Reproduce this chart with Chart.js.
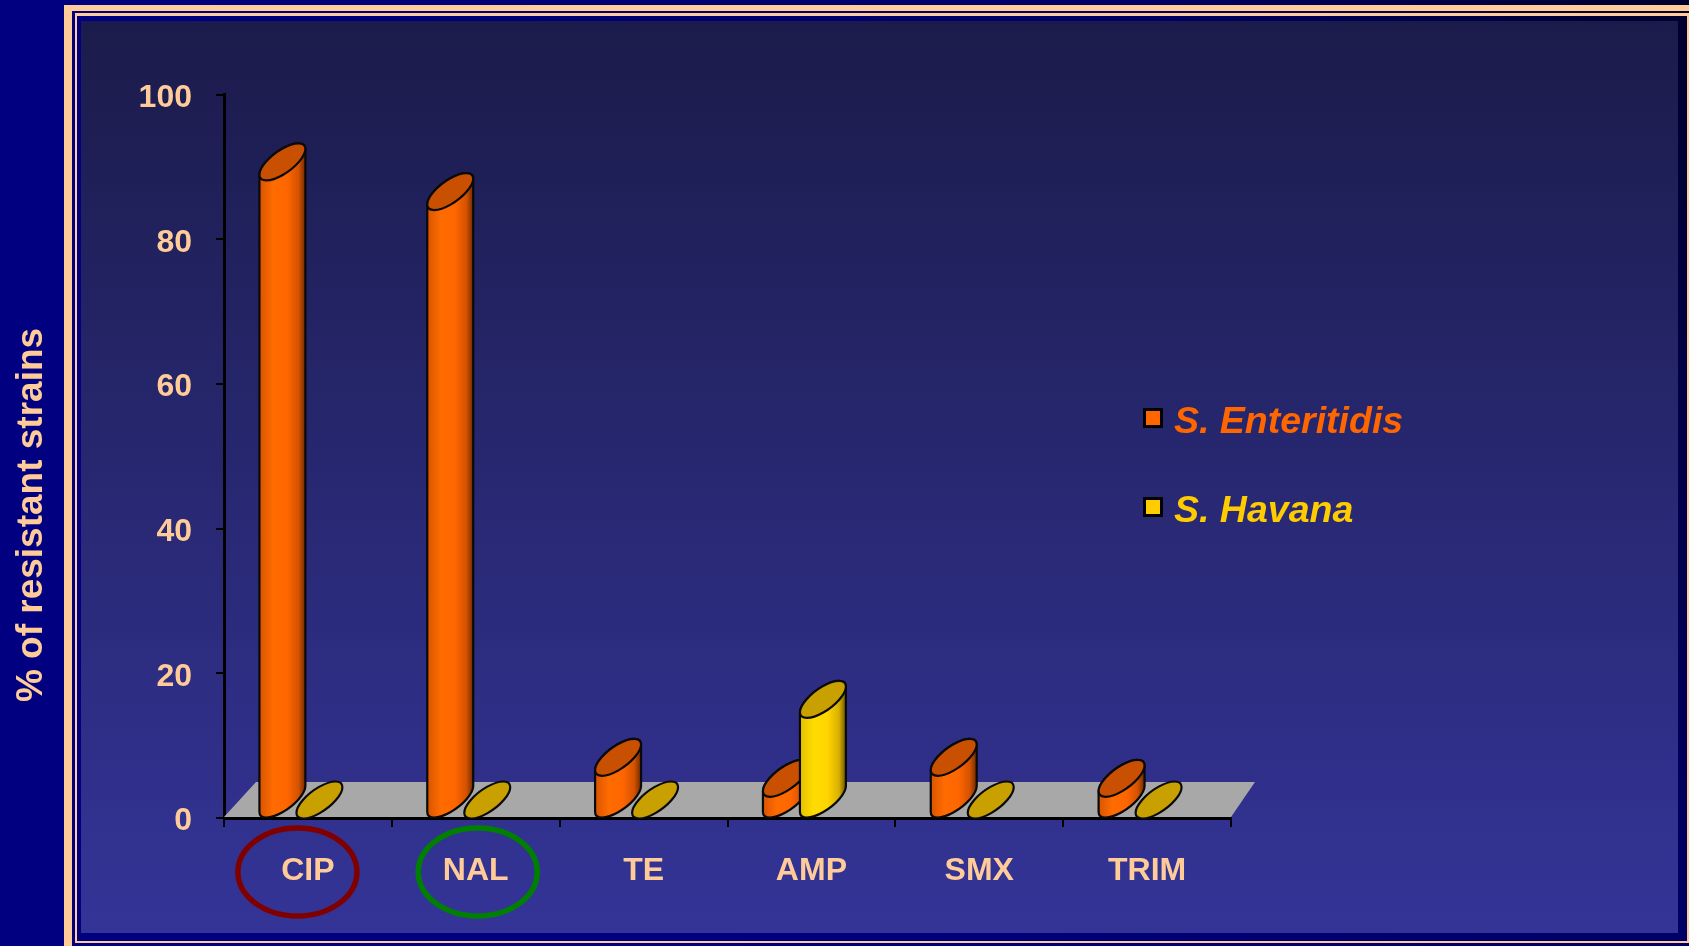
<!DOCTYPE html>
<html>
<head>
<meta charset="utf-8">
<style>
  html, body { margin: 0; padding: 0; background: #000080; overflow: hidden; }
  canvas { display: block; }
</style>
<script src="https://cdn.jsdelivr.net/npm/chart.js@4.4.1/dist/chart.umd.min.js"></script>
</head>
<body>
<canvas id="chart" width="1689" height="946"></canvas>
<script>
// ---- data ----
const categories = ['CIP', 'NAL', 'TE', 'AMP', 'SMX', 'TRIM'];
const enteritidis = [88.2, 84.1, 5.9, 3.0, 5.9, 3.0];
const havana = [0, 0, 0, 13.9, 0, 0];
const yTickValues = [0, 20, 40, 60, 80, 100];
const seriesNames = ['S. Enteritidis', 'S. Havana'];
const circledLabels = ['CIP', 'NAL'];
const yTitle = '% of resistant strains';

// ---- styles ----
const FONT = '"Liberation Sans", Arial, Helvetica, sans-serif';
const PEACH = '#ffcc99';
const seriesStyle = [
  { fill: '#ff6600', top: '#c85000', body: ['#d85400', '#ff6c00', '#ff6600', '#d45200', '#6e2a00'] },
  { fill: '#ffcc00', top: '#c8a000', body: ['#e6c000', '#ffdc00', '#ffd500', '#d8b000', '#6a5400'] }
];
// oblique projection of the cylinder cross-section (circle -> slanted ellipse)
const U = { x: 16.5, y: 0 };
const V = { x: 16, y: -18.5 };
const DEPTH_DX = -7, DEPTH_DY = -18;      // cylinders stand mid-depth on the floor
const FLOOR_DX = 32, FLOOR_DY = 36;       // floor depth
const circleStyle = [
  { color: '#800000', shift: -10.5 },
  { color: '#008000', shift: 2 }
];

function ellArc(ctx, cx, cy, a0, a1) {
  ctx.save();
  ctx.transform(U.x, U.y, V.x, V.y, cx, cy);
  ctx.arc(0, 0, 1, a0, a1, false);
  ctx.restore();
}
function ellPt(cx, cy, t) {
  return { x: cx + U.x * Math.cos(t) + V.x * Math.sin(t),
           y: cy + U.y * Math.cos(t) + V.y * Math.sin(t) };
}

function drawCylinder(ctx, cx, yTop, yBase, st) {
  const tR = Math.atan2(V.x, U.x);
  const tL = tR + Math.PI;
  const half = Math.hypot(U.x, V.x);
  ctx.lineWidth = 2.2;
  ctx.strokeStyle = '#0a0a0a';
  ctx.lineJoin = 'round';
  if (yBase - yTop > 0.5) {
    const pTL = ellPt(cx, yTop, tL), pBL = ellPt(cx, yBase, tL), pTR = ellPt(cx, yTop, tR);
    ctx.beginPath();
    ctx.moveTo(pTL.x, pTL.y);
    ctx.lineTo(pBL.x, pBL.y);
    ellArc(ctx, cx, yBase, tL, tR + 2 * Math.PI);
    ctx.lineTo(pTR.x, pTR.y);
    ellArc(ctx, cx, yTop, tR, tL);
    ctx.closePath();
    const g = ctx.createLinearGradient(cx - half, 0, cx + half, 0);
    const stops = [0, 0.3, 0.6, 0.85, 1];
    stops.forEach((s, i) => g.addColorStop(s, st.body[i]));
    ctx.fillStyle = g;
    ctx.fill();
    ctx.stroke();
  }
  ctx.beginPath();
  ellArc(ctx, cx, yTop, 0, 2 * Math.PI);
  ctx.closePath();
  ctx.fillStyle = st.top;
  ctx.fill();
  ctx.stroke();
}

// slide frame and panel behind the chart
const framePlugin = {
  id: 'frame',
  beforeDraw(chart) {
    const ctx = chart.ctx;
    const W = chart.width, H = chart.height;
    ctx.save();
    const bg = ctx.createLinearGradient(77, 941, 1687, 16);
    bg.addColorStop(0, '#000080');
    bg.addColorStop(0.3, '#000080');
    bg.addColorStop(0.75, '#000066');
    bg.addColorStop(1, '#00002e');
    ctx.fillStyle = bg;
    ctx.fillRect(0, 0, W, H);
    // thick outer border (left/top)
    ctx.fillStyle = PEACH;
    ctx.fillRect(64, 5, W - 64, 6);
    ctx.fillRect(64, 5, 8, H - 5);
    // thin inner border
    ctx.fillRect(75, 13, W - 75, 930);
    ctx.fillStyle = bg;
    ctx.fillRect(77, 16, 1610, 925);
    // panel
    const pg = ctx.createLinearGradient(0, 21, 0, 933);
    pg.addColorStop(0, '#1b1b4b');
    pg.addColorStop(1, '#343498');
    ctx.fillStyle = pg;
    ctx.fillRect(81, 21, 1597, 912);
    // axis title
    ctx.fillStyle = PEACH;
    ctx.font = 'bold 37px ' + FONT;
    ctx.textAlign = 'center';
    ctx.textBaseline = 'alphabetic';
    ctx.translate(42, 515);
    ctx.rotate(-Math.PI / 2);
    ctx.fillText(yTitle, 0, 0);
    ctx.restore();
  },
  // floor + cylinders replace the flat bars
  beforeDatasetsDraw(chart) {
    const ctx = chart.ctx;
    const x = chart.scales.x, y = chart.scales.y;
    const y0 = y.getPixelForValue(0);
    ctx.save();
    ctx.beginPath();
    ctx.moveTo(x.left, y0 - 1);
    ctx.lineTo(x.left + FLOOR_DX, y0 - FLOOR_DY);
    ctx.lineTo(x.right + FLOOR_DX - 8, y0 - FLOOR_DY);
    ctx.lineTo(x.right, y0 - 1);
    ctx.closePath();
    ctx.fillStyle = '#a8a8a8';
    ctx.fill();
    const metas = chart.data.datasets.map((d, i) => chart.getDatasetMeta(i));
    for (let c = 0; c < categories.length; c++) {
      metas.forEach((m, di) => {
        const el = m.data[c];
        drawCylinder(ctx, el.x + DEPTH_DX, el.y + DEPTH_DY, el.base + DEPTH_DY, seriesStyle[di]);
      });
    }
    ctx.restore();
    return false;
  },
  afterDraw(chart) {
    const ctx = chart.ctx;
    const x = chart.scales.x;
    ctx.save();
    // circled category labels
    circledLabels.forEach((lab, i) => {
      const idx = categories.indexOf(lab);
      const cx = x.getPixelForValue(idx) + circleStyle[i].shift;
      ctx.beginPath();
      ctx.ellipse(cx, 872, 59.5, 44, 0, 0, 2 * Math.PI);
      ctx.lineWidth = 5.5;
      ctx.strokeStyle = circleStyle[i].color;
      ctx.stroke();
    });
    // legend
    const rows = [433, 522];
    chart.data.datasets.forEach((ds, i) => {
      const base = rows[i];
      ctx.fillStyle = ds.backgroundColor;
      ctx.fillRect(1144.5, base - 23.5, 17, 17);
      ctx.lineWidth = 3;
      ctx.strokeStyle = '#000';
      ctx.strokeRect(1144.5, base - 23.5, 17, 17);
      ctx.font = 'italic bold 37.5px ' + FONT;
      ctx.textAlign = 'left';
      ctx.textBaseline = 'alphabetic';
      ctx.fillStyle = ds.backgroundColor;
      ctx.fillText(ds.label, 1174, base);
    });
    ctx.restore();
  }
};

new Chart(document.getElementById('chart'), {
  type: 'bar',
  data: {
    labels: categories,
    datasets: [
      { label: seriesNames[0], data: enteritidis, backgroundColor: seriesStyle[0].fill },
      { label: seriesNames[1], data: havana, backgroundColor: seriesStyle[1].fill }
    ]
  },
  options: {
    responsive: false,
    animation: false,
    devicePixelRatio: 1,
    layout: { padding: { top: 94.5, right: 458, bottom: 0, left: 0 } },
    datasets: { bar: { categoryPercentage: 0.441, barPercentage: 1 } },
    plugins: { legend: { display: false }, tooltip: { enabled: false } },
    scales: {
      x: {
        afterFit(s) { s.height = 128; },
        grid: { offset: true, drawOnChartArea: false, drawTicks: true, tickLength: 9, color: '#000', lineWidth: 2 },
        border: { display: true, color: '#000', width: 3 },
        ticks: { color: PEACH, font: { family: FONT, size: 32, weight: 'bold' }, padding: 25, maxRotation: 0, autoSkip: false }
      },
      y: {
        min: 0, max: 100,
        afterFit(s) { s.width = 224; },
        afterBuildTicks(s) { s.ticks = yTickValues.map(v => ({ value: v })); },
        grid: { drawOnChartArea: false, drawTicks: true, tickLength: 8, color: '#000', lineWidth: 2 },
        border: { display: true, color: '#000', width: 3 },
        ticks: { color: PEACH, font: { family: FONT, size: 32, weight: 'bold' }, padding: 24, labelOffset: 3.5 }
      }
    }
  },
  plugins: [framePlugin]
});
</script>
</body>
</html>
